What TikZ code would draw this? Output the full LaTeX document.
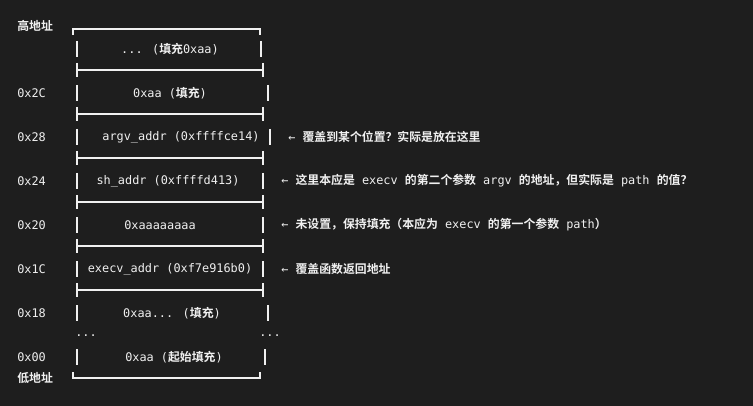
\documentclass[tikz,border=0pt]{standalone}
\usepackage{fontspec}
\setmainfont{DejaVu Sans Mono}
\newfontfamily\cjk{Noto Sans CJK SC}[BoldFont={* Bold}]
\newcommand{\zh}[1]{{\cjk\bfseries #1}}
\usetikzlibrary{positioning}
\definecolor{bgdark}{HTML}{1E1E1E}
\definecolor{ink}{HTML}{F0F0F0}
\begin{document}
\begin{tikzpicture}[x=0.75pt, y=-0.75pt, every node/.style={text=ink, font=\fontsize{8.9pt}{10pt}\selectfont, inner sep=0pt}]
    \tikzset{addr/.style={anchor=west}, cell/.style={anchor=center}, note/.style={anchor=west}}
    \tikzset{wall/.style={draw=ink, line width=0.9pt}}
    \fill[bgdark] (0,0) rectangle (753,406);
    % address labels
    \node [addr] at (17,26) (hi) {\zh{高地址}};
    \node [addr] at (17,93) (a2c) {0x2C};
    \node [addr] at (17,137) (a28) {0x28};
    \node [addr] at (17,181) (a24) {0x24};
    \node [addr] at (17,225) (a20) {0x20};
    \node [addr] at (17,269) (a1c) {0x1C};
    \node [addr] at (17,313) (a18) {0x18};
    \node [addr] at (17,357) (a00) {0x00};
    \node [addr] at (17,378) (lo) {\zh{低地址}};
    % cell contents
    \node [cell] at (170,49) (ctop) {... (\zh{填充}0xaa)};
    \node [cell] at (170,93) (c2c) {0xaa (\zh{填充})};
    \node [cell] at (181,137) (c28) {argv\_addr (0xffffce14)};
    \node [cell] at (168,181) (c24) {sh\_addr (0xffffd413)};
    \node [cell] at (160,225) (c20) {0xaaaaaaaa};
    \node [cell] at (170,269) (c1c) {execv\_addr (0xf7e916b0)};
    \node [cell] at (172,313) (c18) {0xaa... (\zh{填充})};
    \node [cell] at (174,357) (c00) {0xaa (\zh{起始填充})};
    \node [cell] at (86,336) (dl) {...};
    \node [cell] at (270,336) (dr) {...};
    % outer brackets
    \draw[wall] (73,35) -- (73,29) -- (260,29) -- (260,35);
    \draw[wall] (73,372) -- (73,378) -- (260,378) -- (260,372);
    % separators
    \foreach \y in {70,114,158,202,246,290}
        \draw[wall] (77,\y) -- (263,\y) (77,\y-7) -- (77,\y+7) (263,\y-7) -- (263,\y+7);
    % side walls
    \foreach \y/\r in {49/261, 93/268, 137/270, 181/263, 225/263, 269/263, 313/268, 357/265} {
        \draw[wall] (77,\y-8) -- (77,\y+8);
        \draw[wall] (\r,\y-8) -- (\r,\y+8);
    }
    % notes
    \node [note] at (288,137) (n28) {← \zh{覆盖到某个位置？实际是放在这里}};
    \node [note] at (281,181) (n24) {← \zh{这里本应是} execv \zh{的第二个参数} argv \zh{的地址，但实际是} path \zh{的值？}};
    \node [note] at (281,225) (n20) {← \zh{未设置，保持填充（本应为} execv \zh{的第一个参数} path\zh{）}};
    \node [note] at (281,269) (n1c) {← \zh{覆盖函数返回地址}};
\end{tikzpicture}
\end{document}
